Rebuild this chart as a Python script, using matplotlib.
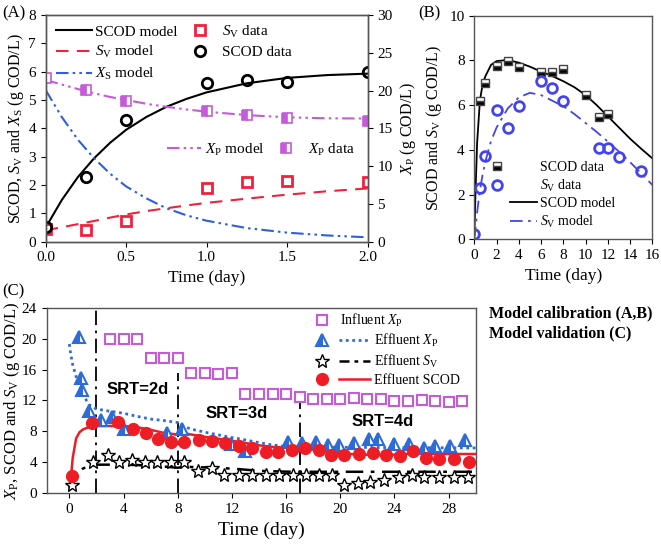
import numpy as np
import matplotlib
matplotlib.use('Agg')
import matplotlib.pyplot as plt
from matplotlib.lines import Line2D
from matplotlib.legend_handler import HandlerLine2DCompound

plt.rcParams['font.family'] = ['Liberation Serif', 'DejaVu Serif']
plt.rcParams['mathtext.fontset'] = 'custom'
plt.rcParams['mathtext.rm'] = 'Liberation Serif'
plt.rcParams['mathtext.it'] = 'Liberation Serif:italic'
plt.rcParams['font.size'] = 11
plt.rcParams['axes.linewidth'] = 1.0
plt.rcParams['axes.edgecolor'] = '#555555'
plt.rcParams['xtick.direction'] = 'out'
plt.rcParams['ytick.direction'] = 'out'

# ---- panel A data ----
a_t = [0, 0.25, 0.5, 1.0, 1.25, 1.5, 2.0]
a_scod = [0.53, 2.3, 4.3, 5.6, 5.7, 5.65, 6.0]
a_sv = [0.45, 0.4, 0.72, 1.88, 2.1, 2.15, 2.1]
a_xp = [21.6, 20.1, 18.6, 17.25, 16.7, 16.4, 16.0]

a_mt = [0, 0.1, 0.2, 0.3, 0.4, 0.5, 0.625, 0.75, 0.875, 1.0, 1.25, 1.5, 1.75, 2.0]
a_scod_m = [0.5, 1.47, 2.28, 2.94, 3.49, 3.95, 4.4, 4.76, 5.04, 5.27, 5.59, 5.78, 5.88, 5.93]
a_sv_m = [0.4, 0.51, 0.62, 0.73, 0.85, 0.96, 1.08, 1.18, 1.28, 1.37, 1.52, 1.66, 1.78, 1.88]
a_xs_m = [5.35, 4.4, 3.6, 2.95, 2.4, 1.95, 1.53, 1.18, 0.93, 0.74, 0.48, 0.32, 0.22, 0.155]
a_xp_m = [21.4, 20.8, 20.2, 19.65, 19.15, 18.75, 18.25, 17.85, 17.5, 17.2, 16.75, 16.46, 16.33, 16.3]

# ---- panel B data ----
b_scod_t = [0.5, 1, 2, 3, 4, 6, 7, 8, 10, 11.2, 12]
b_scod = [6.18, 6.97, 7.76, 7.97, 7.69, 7.5, 7.5, 7.62, 6.45, 5.48, 5.59]
b_sv_t = [0, 0.5, 1, 2, 3, 4, 6, 7, 8, 11.2, 12, 13, 15]
b_sv = [0.25, 2.28, 3.73, 5.78, 4.98, 5.96, 7.08, 6.78, 6.18, 4.08, 4.1, 3.7, 3.05]

b_mt = [0, 0.1, 0.25, 0.5, 0.75, 1, 1.5, 2, 3, 4, 5, 6, 7, 8, 9, 10, 11, 12, 13, 14, 15, 16]
b_scod_m = [0.2, 2.0, 4.3, 6.2, 6.95, 7.3, 7.8, 7.97, 8.02, 7.9, 7.72, 7.5, 7.3, 7.07, 6.8, 6.45, 6.0, 5.5, 5.0, 4.5, 4.05, 3.62]
b_sv_m = [0, 0.5, 1.2, 2.2, 2.9, 3.5, 4.4, 5.0, 5.85, 6.35, 6.55, 6.45, 6.2, 5.95, 5.6, 5.2, 4.8, 4.37, 3.92, 3.45, 2.95, 2.43]

# ---- panel C data ----
c_in_t = [3, 4, 5, 6, 7, 8, 9, 10, 11, 12, 13, 14, 15, 16, 17, 18, 19, 20, 21, 22, 23, 24, 25, 26, 27, 28, 29]
c_in_xp = [20, 20, 20, 17.45, 17.45, 17.45, 15.5, 15.5, 15.4, 15.5, 12.9, 12.9, 12.9, 12.9, 12.5,
           12.25, 12.25, 12.25, 12.35, 12.25, 12.25, 11.9, 11.9, 12.0, 11.9, 11.8, 11.9]

c_xp_t = [0.71, 0.84, 0.91, 1.48, 2.31, 3.12, 4.06, 7.23, 8.29, 11.97, 13.0, 16.15, 17.2, 18.2,
          19.1, 19.9, 21.0, 22.1, 22.8, 24.0, 25.1, 26.2, 27.0, 28.1, 29.2]
c_xp = [20.25, 14.86, 13.36, 10.68, 9.48, 9.82, 8.27, 7.84, 8.27, 6.33, 5.47, 6.68, 6.46, 6.68,
        6.25, 6.25, 6.46, 6.98, 6.98, 6.33, 6.37, 5.81, 6.12, 6.12, 6.89]

c_sv_t = [0.17, 1.77, 2.83, 3.69, 4.6, 5.58, 6.49, 7.47, 8.48, 9.5, 10.5, 11.41, 12.54, 13.52, 14.5,
          15.5, 16.5, 17.45, 18.4, 19.4, 20.3, 21.3, 22.2, 23.2, 24.3, 25.3, 26.2, 27.3, 28.4, 29.4]
c_sv = [1.07, 4.09, 4.95, 4.09, 4.31, 4.09, 4.09, 4.09, 4.09, 2.93, 3.23, 2.3, 2.3, 2.3, 2.3,
        2.3, 2.3, 2.3, 2.3, 2.3, 1.1, 1.29, 1.5, 1.72, 2.15, 2.37, 2.15, 2.15, 2.15, 2.15]

c_scod_t = [0.17, 1.7, 3.62, 4.67, 5.66, 6.57, 7.47, 8.46, 9.6, 10.5, 11.48, 12.54, 13.45, 14.5, 15.4,
            16.4, 17.4, 18.4, 19.35, 20.3, 21.36, 22.4, 23.4, 24.4, 25.4, 26.3, 27.3, 28.4, 29.5]
c_scod = [2.24, 9.13, 9.26, 8.27, 7.84, 6.98, 6.67, 6.67, 6.89, 6.8, 6.55, 6.12, 5.81, 5.38, 5.38,
          5.6, 5.81, 5.6, 4.95, 4.95, 5.08, 5.17, 4.95, 4.82, 5.45, 4.52, 4.39, 4.39, 4.09]

c_mt = [0, 0.1, 0.25, 0.5, 0.75, 1.0, 1.5, 2, 3, 4, 5, 6, 7, 8, 8.5, 9, 10, 11, 12, 13, 14, 15, 16,
        17, 18, 19, 20, 21, 22, 23, 24, 25, 26, 27, 28, 29, 30]
c_xp_m = [19.3, 18.0, 16.6, 15.1, 13.8, 12.7, 11.4, 10.9, 10.6, 10.35, 9.95, 9.6, 9.4, 9.15, 8.6, 8.3,
          7.9, 7.55, 7.2, 6.9, 6.55, 6.25, 6.05, 6.0, 5.98, 5.96, 5.95, 5.94, 5.93, 5.92, 5.91, 5.9,
          5.9, 5.89, 5.88, 5.87, 5.86]
c_scod_m = [0.8, 1.8, 4.6, 7.1, 7.9, 8.25, 8.6, 8.7, 8.7, 8.7, 8.55, 8.2, 7.8, 7.6, 7.75, 7.6, 7.3,
            7.05, 6.8, 6.5, 6.2, 6.0, 5.9, 5.82, 5.65, 5.4, 5.17, 5.05, 4.98, 4.95, 5.0, 5.1, 5.12,
            5.1, 5.08, 5.08, 5.08]
c_sv_m = [0.4, 0.9, 1.6, 2.4, 2.9, 3.2, 3.55, 3.7, 3.7, 3.7, 3.65, 3.55, 3.45, 3.3, 3.45, 3.4, 3.35,
          3.25, 3.2, 3.05, 2.9, 2.85, 2.8, 2.78, 2.78, 2.78, 2.78, 2.78, 2.78, 2.78, 2.78, 2.78,
          2.78, 2.78, 2.78, 2.78, 2.78]

srt_t = [2, 8, 17]
srt_top = [24, 15.5, 11.9]
srt_labels = ['SRT=2d', 'SRT=3d', 'SRT=4d']
srt_text_pos = [(5.04, 13.36), (12.34, 10.35), (23.16, 9.26)]

red = '#f2203c'
purple = '#c65ad9'
blue_a = '#2f5fe0'
blue_b = '#4444ee'
blue_c = '#2d6cd8'


class SideHandler(HandlerLine2DCompound):
    # marker drawn at mfrac of the handle box, line from lstart to the end
    def __init__(self, mfrac, lstart, **kw):
        super().__init__(**kw)
        self.mfrac = mfrac
        self.lstart = lstart

    def get_xdata(self, legend, xdescent, ydescent, width, height, fontsize):
        xdata = [-xdescent + self.lstart * width, -xdescent + width]
        return xdata, [-xdescent + self.mfrac * width]


fig = plt.figure(figsize=(6.61, 5.55), dpi=100)

# ================= panel A =================
axA = fig.add_axes([0.0691, 0.5645, 0.4871, 0.4085])
axA2 = axA.twinx()
l_scod, = axA.plot(a_mt, a_scod_m, color='black', lw=1.5, label='SCOD model')
l_sv, = axA.plot(a_mt, a_sv_m, color=red, lw=1.5, dashes=(6, 4), label='$S_\\mathrm{V}$ model')
l_xs, = axA.plot(a_mt, a_xs_m, color=blue_a, lw=1.5, dashes=(6, 2, 1.2, 2, 1.2, 2), label='$X_\\mathrm{S}$ model')
m_sv, = axA.plot(a_t, a_sv, 's', ms=6.5, mfc='white', mec=red, mew=2, label='$S_\\mathrm{V}$ data')
m_scod, = axA.plot(a_t, a_scod, 'o', ms=7.5, mfc='none', mec='black', mew=2, label='SCOD data')
l_xp, = axA2.plot(a_mt, a_xp_m, color=purple, lw=1.5, dashes=(6, 2, 1.2, 2, 1.2, 2), label='$X_\\mathrm{P}$ model')
m_xp, = axA2.plot(a_t, a_xp, 's', ms=7, fillstyle='left', mfc=purple, mfcalt='white', mec=purple,
                  mew=1.2, label='$X_\\mathrm{P}$ data')
axA.set_xlim(0, 2.0)
axA.set_ylim(0, 8)
axA2.set_ylim(0, 30)
axA.set_xticks([0, 0.5, 1.0, 1.5, 2.0])
axA.set_xticklabels(['0.0', '0.5', '1.0', '1.5', '2.0'])
axA.set_yticks(range(0, 9))
axA2.set_yticks(range(0, 31, 5))
axA.set_xlabel('Time (day)', fontsize=12.5, labelpad=4)
axA.set_ylabel('SCOD, $S_\\mathrm{V}$ and $X_\\mathrm{S}$ (g COD/L)', fontsize=11.5, labelpad=2)
axA2.set_ylabel('$X_\\mathrm{P}$ (g COD/L)', fontsize=11.5, labelpad=4)
legA = axA.legend(handles=[l_scod, l_sv, l_xs, m_sv, m_scod], ncol=2, frameon=False,
                  loc='upper left', bbox_to_anchor=(0.031, 0.962), handlelength=2.36,
                  handletextpad=0.22, columnspacing=0.3, labelspacing=0.37, fontsize=11,
                  borderpad=0, borderaxespad=0)
axA.add_artist(legA)
axA.legend(handles=[l_xp, m_xp], ncol=2, frameon=False, loc='center left',
           bbox_to_anchor=(0.377, 0.405), handlelength=2.2, handletextpad=0.3,
           columnspacing=0.3, fontsize=11, borderpad=0, borderaxespad=0)

# ================= panel B =================
axB = fig.add_axes([0.7176, 0.5688, 0.2693, 0.4029])
lb_scod, = axB.plot(b_mt, b_scod_m, color='black', lw=1.3, label='SCOD model')
lb_sv, = axB.plot(b_mt, b_sv_m, color=blue_b, lw=1.3, dashes=(7, 3, 1.5, 3), label='$S_\\mathrm{V}$ model')
mb_scod, = axB.plot(b_scod_t, b_scod, 's', ms=6, fillstyle='bottom', mfc='black', mfcalt='white',
                    mec='#444444', mew=1, label='SCOD data')
mb_sv, = axB.plot(b_sv_t, b_sv, 'o', ms=7, mfc='none', mec=blue_b, mew=2, label='$S_\\mathrm{V}$ data')
axB.set_xlim(0, 16)
axB.set_ylim(0, 10)
axB.set_xticks(range(0, 17, 2))
axB.set_yticks(range(0, 11, 2))
axB.set_xlabel('Time (day)', fontsize=12.5, labelpad=4)
axB.set_ylabel('SCOD and $S_\\mathrm{V}$ (g COD/L)', fontsize=11.5, labelpad=4)
hb = SideHandler(0.15, 0.43)
axB.legend(handles=[mb_scod, mb_sv, lb_scod, lb_sv], frameon=False, loc='upper left',
           bbox_to_anchor=(0.088, 0.35), handlelength=3.4, handletextpad=0.2,
           labelspacing=0.25, fontsize=10, borderpad=0, borderaxespad=0,
           handler_map={mb_scod: hb, mb_sv: hb, lb_scod: hb, lb_sv: hb})

# ================= panel C =================
axC = fig.add_axes([0.0707, 0.1112, 0.649, 0.3344])
for t, top in zip(srt_t, srt_top):
    axC.plot([t, t], [0, top], color='black', lw=1.3, dashes=(8, 3, 1.5, 3))
axC.plot(c_mt, c_xp_m, color=blue_c, lw=2, dashes=(1, 1.3))
axC.plot(c_mt, c_sv_m, color='black', lw=1.8, dashes=(7, 3, 1.5, 3))
axC.plot(c_mt, c_scod_m, color='#ee1c25', lw=1.8)
mc_in, = axC.plot(c_in_t, c_in_xp, 's', ms=7, mfc='white', mec=purple, mew=1.5)
axC.plot(c_xp_t, c_xp, '^', ms=8.5, fillstyle='left', mfc=blue_c, mfcalt='white',
         mec=blue_c, mew=1.5)
axC.plot(c_sv_t, c_sv, '*', ms=10, mfc='white', mec='black', mew=1.0)
axC.plot(c_scod_t, c_scod, 'o', ms=8.5, color='#ee1c25', mec='#ee1c25')
for lab, (x, y) in zip(srt_labels, srt_text_pos):
    axC.text(x, y, lab, ha='center', va='center', fontsize=12, fontweight='bold',
             family=['Liberation Sans', 'DejaVu Sans'])
axC.set_xlim(-1.67, 30)
axC.set_ylim(0, 24)
axC.set_xticks(range(0, 29, 4))
axC.set_yticks(range(0, 25, 4))
axC.set_xlabel('Time (day)', fontsize=14, labelpad=4)
axC.set_ylabel('$X_\\mathrm{P}$, SCOD and $S_\\mathrm{V}$ (g COD/L)', fontsize=12, labelpad=0)

# legend proxies (marker to the left, line to the right)
p_xp = Line2D([], [], color=blue_c, lw=2, dashes=(1, 1.3), marker='^', ms=8.5, fillstyle='left',
              mfc=blue_c, mfcalt='white', mec=blue_c, mew=1.5)
p_sv = Line2D([], [], color='black', lw=1.8, dashes=(4, 2, 1.5, 2), marker='*', ms=10,
              mfc='white', mec='black', mew=1.0)
p_scod = Line2D([], [], color='#ee1c25', lw=1.8, marker='o', ms=8.5, mec='#ee1c25')
legC1 = axC.legend(handles=[mc_in], labels=['Influent $X_\\mathrm{P}$'], frameon=False,
                   loc='upper left', bbox_to_anchor=(0.6184, 0.977), handlelength=1.37,
                   handletextpad=0.65, fontsize=10, borderpad=0, borderaxespad=0)
axC.add_artist(legC1)
hc = SideHandler(0.167, 0.466)
axC.legend(handles=[p_xp, p_sv, p_scod],
           labels=['Effluent $X_\\mathrm{P}$', 'Effluent $S_\\mathrm{V}$', 'Effluent SCOD'],
           handler_map={p_xp: hc, p_sv: hc, p_scod: hc}, frameon=False,
           loc='upper left', bbox_to_anchor=(0.6184, 0.871), handlelength=4.17,
           handletextpad=0.3, labelspacing=0.3, fontsize=10, borderpad=0, borderaxespad=0)

# ---- panel letters and notes ----
fig.text(0.004, 0.99, '(A)', fontsize=12, va='top', ha='left')
fig.text(0.632, 0.99, '(B)', fontsize=12, va='top', ha='left')
fig.text(0.004, 0.49, '(C)', fontsize=12, va='top', ha='left')
fig.text(0.74, 0.436, 'Model calibration (A,B)', fontsize=11.5, fontweight='bold', va='center')
fig.text(0.74, 0.400, 'Model validation (C)', fontsize=11.5, fontweight='bold', va='center')

fig.savefig('out.png', dpi=100)
